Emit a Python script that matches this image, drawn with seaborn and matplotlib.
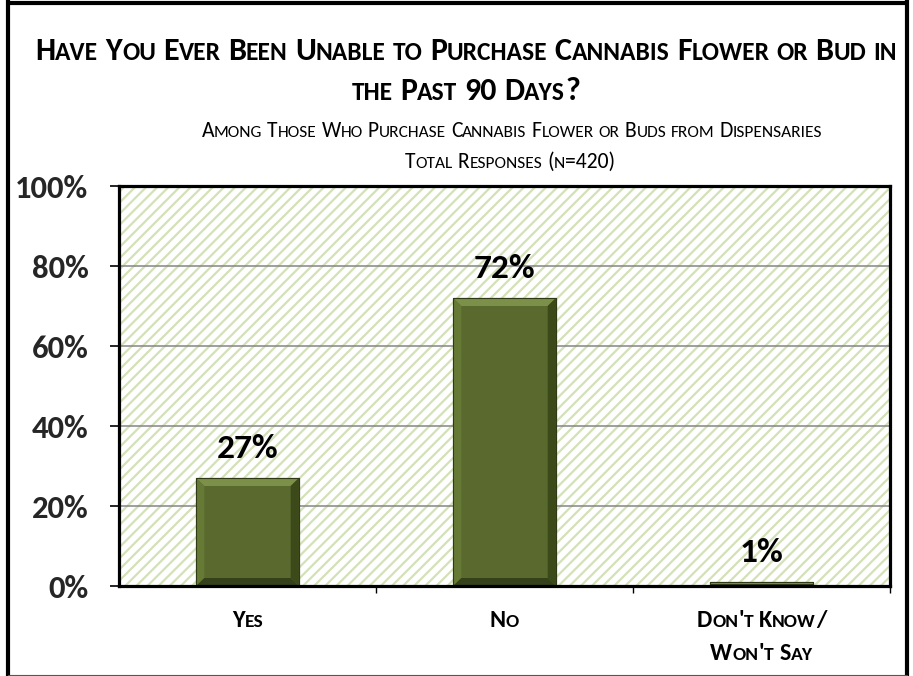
import matplotlib
matplotlib.use("Agg")
import matplotlib.pyplot as plt
import seaborn as sns
import pandas as pd
from matplotlib.patches import Rectangle, Polygon
from matplotlib.lines import Line2D
from matplotlib.font_manager import FontProperties

# ---------------- data ----------------
categories = ["Yes", "No", "Don't Know/\nWon't Say"]
values = [27, 72, 1]
value_labels = ["27%", "72%", "1%"]
y_ticks = [0, 20, 40, 60, 80, 100]
y_tick_labels = ["0%", "20%", "40%", "60%", "80%", "100%"]
title_lines = ["Have You Ever Been Unable to Purchase Cannabis Flower or Bud in",
               "the Past 90 Days?"]
subtitle_lines = ["Among Those Who Purchase Cannabis Flower or Buds from Dispensaries",
                  "Total Responses (n=420)"]

FONT = "Carlito"
W, H = 913, 676
sns.set_theme(style="white")
plt.rcParams["font.family"] = [FONT, "DejaVu Sans"]
plt.rcParams["hatch.linewidth"] = 1.6

fig = plt.figure(figsize=(W / 100, H / 100), dpi=100)
fig.patch.set_facecolor("white")
L, R, T, B = 119, 890, 186, 586
ax = fig.add_axes([L / W, 1 - B / H, (R - L) / W, (B - T) / H])

df = pd.DataFrame({"cat": categories, "val": values})
BAR = "#5a6a2e"
sns.barplot(data=df, x="cat", y="val", ax=ax, color=BAR, width=0.4,
            saturation=1, edgecolor="#2f3914", linewidth=0.8, zorder=3)

ax.set_xlim(-0.5, 2.5)
ax.set_ylim(0, 100)
ax.set_xlabel("")
ax.set_ylabel("")

# background hatch
bg = Rectangle((0, 0), 1, 1, transform=ax.transAxes, facecolor="white",
               edgecolor="#d3e1b7", hatch="///", lw=0, zorder=0.1)
ax.add_patch(bg)
ax.set_axisbelow(True)
ax.yaxis.grid(True, color="#858585", lw=1.1, zorder=1)
ax.xaxis.grid(False)

for s in ax.spines.values():
    s.set_visible(True)
    s.set_color("black")
    s.set_linewidth(2.3)
    s.set_zorder(5)

ax.set_yticks(y_ticks)
ax.set_yticklabels(y_tick_labels, fontsize=23.5, fontweight="bold", family=FONT)
ax.tick_params(axis="y", which="major", direction="out", length=6.5, width=1.2,
               color="black", pad=15.5, left=True)
ax.set_xticks([0, 1, 2])
ax.set_xticklabels(["", "", ""])
ax.tick_params(axis="x", which="major", length=0)
ax.set_xticks([0.5, 1.5, 2.5], minor=True)
ax.tick_params(axis="x", which="minor", direction="out", length=5, width=1.0,
               color="black", bottom=True)

# bevel on bars
bars = [p for p in ax.patches if isinstance(p, Rectangle) and p is not bg]
bx = 0.032
for p in bars:
    x0, y0 = p.get_x(), p.get_y()
    x1, y1 = x0 + p.get_width(), y0 + p.get_height()
    by = min(2.0, p.get_height() / 2)
    bxx = bx if p.get_height() > 4 else 0.0
    top = Polygon([(x0, y1), (x1, y1), (x1 - bxx, y1 - by), (x0 + bxx, y1 - by)],
                  closed=True, facecolor="#7d9049", lw=0, zorder=3.5)
    left = Polygon([(x0, y0), (x0, y1), (x0 + bxx, y1 - by), (x0 + bxx, y0 + by)],
                   closed=True, facecolor="#667a36", lw=0, zorder=3.5)
    right = Polygon([(x1, y0), (x1, y1), (x1 - bxx, y1 - by), (x1 - bxx, y0 + by)],
                    closed=True, facecolor="#3c4a1a", lw=0, zorder=3.5)
    bot = Polygon([(x0, y0), (x1, y0), (x1 - bxx, y0 + by), (x0 + bxx, y0 + by)],
                  closed=True, facecolor="#34411a", lw=0, zorder=3.5)
    for poly in (top, left, right, bot):
        ax.add_patch(poly)
    ax.add_patch(Rectangle((x0, y0), x1 - x0, y1 - y0, fill=False,
                           edgecolor="#2f3914", lw=0.8, zorder=3.6))

ax.bar_label(ax.containers[0], labels=value_labels, padding=11,
             fontsize=25.5, fontweight="bold", family=FONT, color="black")

# ---------------- small caps text helper ----------------
renderer = fig.canvas.get_renderer()
SC = 0.8


def sc_line(xc, ybase, s, size, weight):
    """Draw small-caps text centred at xc (px), baseline ybase (px from top)."""
    items = []
    for wi, word in enumerate(s.split(" ")):
        if wi > 0:
            items.append(("SPACE", size))
        for ch in word:
            if ch.islower():
                t, fs = ch.upper(), size * SC
            else:
                t, fs = ch, size
            if items and items[-1][0] != "SPACE" and items[-1][1] == fs:
                items[-1] = (items[-1][0] + t, fs)
            else:
                items.append((t, fs))
    widths = []
    for t, fs in items:
        if t == "SPACE":
            widths.append(fs * 100 / 72 * 0.226)
        else:
            fp = FontProperties(family=FONT, size=fs, weight=weight)
            w, h, d = renderer.get_text_width_height_descent(t, fp, ismath=False)
            widths.append(w)
    total = sum(widths)
    x = xc - total / 2
    for (t, fs), w in zip(items, widths):
        if t != "SPACE":
            fig.text(x / W, 1 - ybase / H, t, fontsize=fs, fontweight=weight,
                     family=FONT, ha="left", va="baseline", color="black")
        x += w


sc_line(466, 60, title_lines[0], 23, "bold")
sc_line(466, 100, title_lines[1], 23, "bold")
sc_line(512, 137, subtitle_lines[0], 15.6, "normal")
sc_line(510, 168, subtitle_lines[1], 15.6, "normal")

# category labels (small caps, top-aligned lines)
for i, cat in enumerate(categories):
    xc = ax.transData.transform((i, 0))[0]
    for j, line in enumerate(cat.split("\n")):
        sc_line(xc, 627 + 33 * j, line, 17.5, "bold")

# outer frame
fw = 3.0
fig.add_artist(Line2D([8 / W, 8 / W], [0, 1], transform=fig.transFigure,
                      color="black", lw=fw))
fig.add_artist(Line2D([907 / W, 907 / W], [0, 1], transform=fig.transFigure,
                      color="black", lw=fw))
fig.add_artist(Line2D([8 / W, 907 / W], [1 - 3 / H, 1 - 3 / H], transform=fig.transFigure,
                      color="black", lw=fw))
fig.add_artist(Line2D([8 / W, 907 / W], [1 - 675 / H, 1 - 675 / H], transform=fig.transFigure,
                      color="#555555", lw=0.8))

fig.savefig("out.png", dpi=100, facecolor="white")
